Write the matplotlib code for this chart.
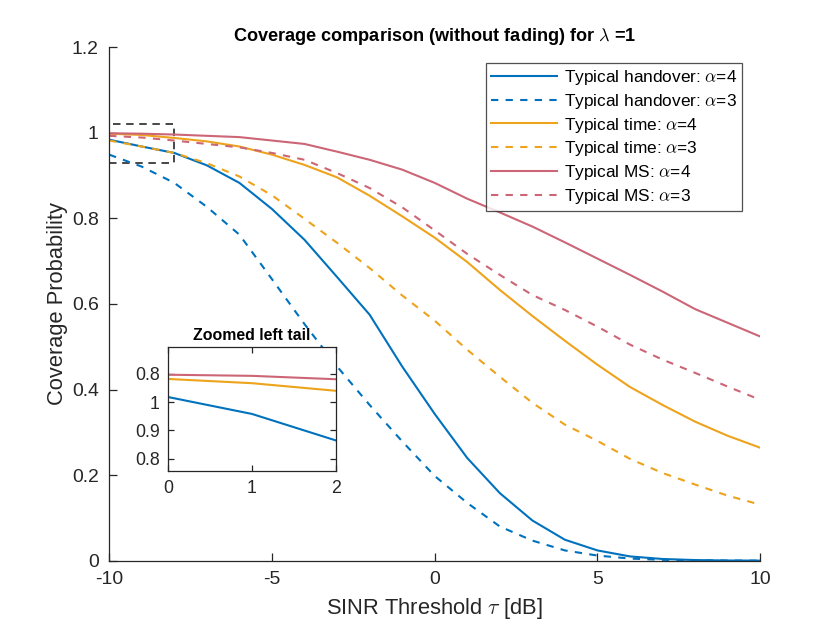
import matplotlib.pyplot as plt
import matplotlib.patches as mpatches
import numpy as np

plt.rcParams['font.family'] = ['Liberation Sans', 'DejaVu Sans']
plt.rcParams['mathtext.fontset'] = 'cm'
plt.rcParams['axes.unicode_minus'] = False

# SINR threshold in dB
tau = np.arange(-10, 11)

handover_a4 = [0.984, 0.968, 0.953, 0.924, 0.883, 0.822, 0.750, 0.663, 0.575, 0.454, 0.343,
               0.240, 0.158, 0.094, 0.049, 0.024, 0.010, 0.004, 0.0015, 0.0005, 0.0002]
handover_a3 = [0.949, 0.921, 0.883, 0.827, 0.762, 0.658, 0.553, 0.454, 0.364, 0.279, 0.198,
               0.135, 0.080, 0.047, 0.024, 0.012, 0.005, 0.002, 0.001, 0.0003, 0.0001]
time_a4 = [0.998, 0.995, 0.988, 0.980, 0.968, 0.949, 0.925, 0.896, 0.853, 0.805, 0.755,
           0.698, 0.633, 0.572, 0.514, 0.458, 0.406, 0.364, 0.325, 0.292, 0.264]
time_a3 = [0.982, 0.968, 0.953, 0.929, 0.898, 0.854, 0.799, 0.743, 0.684, 0.620, 0.561,
           0.493, 0.430, 0.369, 0.318, 0.280, 0.238, 0.205, 0.178, 0.152, 0.131]
ms_a4 = [0.999, 0.998, 0.996, 0.993, 0.990, 0.982, 0.974, 0.956, 0.937, 0.914, 0.883,
         0.846, 0.814, 0.781, 0.744, 0.706, 0.668, 0.629, 0.588, 0.556, 0.524]
ms_a3 = [0.993, 0.989, 0.982, 0.974, 0.966, 0.953, 0.937, 0.906, 0.871, 0.826, 0.772,
         0.717, 0.668, 0.621, 0.586, 0.547, 0.505, 0.470, 0.439, 0.407, 0.376]

# inset data (as drawn)
inset_x = [0, 1, 2]
inset_handover = [1.018, 0.958, 0.864]
inset_time = [1.082, 1.067, 1.040]
inset_ms = [1.097, 1.093, 1.081]
inset_yticks = [0.8, 0.9, 1.0, 1.1]
inset_yticklabels = ['0.8', '0.9', '1', '0.8']

c_blue = '#0072BD'
c_orange = '#EDA31B'
c_red = '#CC6677'
dash = (0, (3.5, 3.5))
tick_col = '#262626'

fig = plt.figure(figsize=(5.6, 4.2), dpi=150)
ax = fig.add_axes([0.13, 0.11, 0.775, 0.815])

ax.plot(tau, handover_a4, color=c_blue, lw=1.0, label=r'Typical handover: $\alpha$=4')
ax.plot(tau, handover_a3, color=c_blue, lw=1.0, ls=dash, label=r'Typical handover: $\alpha$=3')
ax.plot(tau, time_a4, color=c_orange, lw=1.0, label=r'Typical time: $\alpha$=4')
ax.plot(tau, time_a3, color=c_orange, lw=1.0, ls=dash, label=r'Typical time: $\alpha$=3')
ax.plot(tau, ms_a4, color=c_red, lw=1.0, label=r'Typical MS: $\alpha$=4')
ax.plot(tau, ms_a3, color=c_red, lw=1.0, ls=dash, label=r'Typical MS: $\alpha$=3')

ax.add_patch(mpatches.Rectangle((-10, 0.93), 2, 0.09, fill=False, ec='#404040',
                                lw=0.9, ls=(0, (4, 3))))

ax.set_xlim(-10, 10)
ax.set_ylim(0, 1.2)
ax.set_xticks([-10, -5, 0, 5, 10])
ax.set_yticks([0, 0.2, 0.4, 0.6, 0.8, 1.0, 1.2])
ax.set_yticklabels(['0', '0.2', '0.4', '0.6', '0.8', '1', '1.2'])
ax.spines['top'].set_visible(False)
ax.spines['right'].set_visible(False)
for s in ['left', 'bottom']:
    ax.spines[s].set_linewidth(0.6)
    ax.spines[s].set_color(tick_col)
ax.tick_params(direction='in', length=4, width=0.6, labelsize=9.3, colors=tick_col, pad=5)
ax.set_xlabel(r'SINR Threshold $\tau$ [dB]', fontsize=10.5, color=tick_col)
ax.set_ylabel('Coverage Probability', fontsize=10.5, color=tick_col, labelpad=2)
ax.set_title(r'Coverage comparison (without fading) for $\lambda$ =1', fontsize=8.7,
             fontweight='bold', pad=3)

leg = ax.legend(loc='upper right', bbox_to_anchor=(0.972, 0.97), fontsize=8.3,
                frameon=True, fancybox=False, edgecolor='#262626', handlelength=3.8,
                handletextpad=0.4, labelspacing=0.28, borderpad=0.3, borderaxespad=0)
leg.get_frame().set_linewidth(0.6)

ins = fig.add_axes([0.2, 0.252, 0.2, 0.198])
ins.plot(inset_x, inset_handover, color=c_blue, lw=1.0)
ins.plot(inset_x, inset_time, color=c_orange, lw=1.0)
ins.plot(inset_x, inset_ms, color=c_red, lw=1.0)
ins.set_xlim(0, 2)
ins.set_ylim(0.755, 1.197)
ins.set_xticks([0, 1, 2])
ins.set_yticks(inset_yticks)
ins.set_yticklabels(inset_yticklabels)
ins.tick_params(direction='in', length=3, width=0.6, labelsize=8.5, colors=tick_col,
                top=True, right=True, pad=4)
for s in ins.spines.values():
    s.set_linewidth(0.6)
    s.set_color(tick_col)
ins.set_title('Zoomed left tail', fontsize=7.6, fontweight='bold', pad=3)

fig.savefig('out.png', dpi=150)
